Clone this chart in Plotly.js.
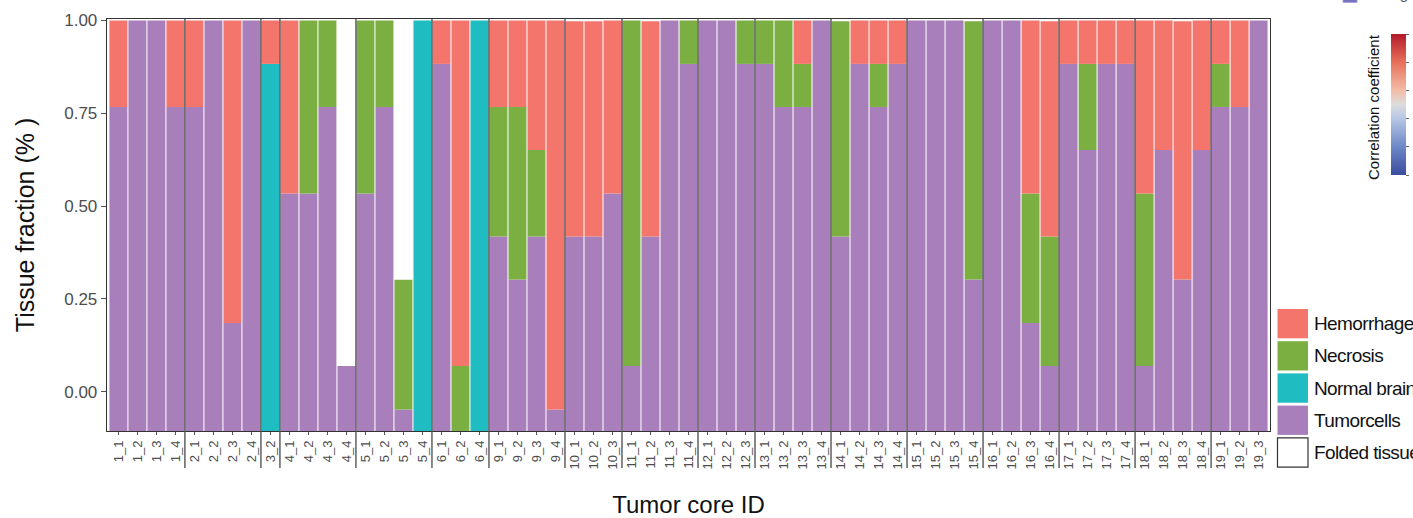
<!DOCTYPE html>
<html>
<head>
<meta charset="utf-8">
<script src="https://cdn.plot.ly/plotly-3.0.1.min.js"></script>
<style>html,body{margin:0;padding:0;background:#fff;}#chart{width:1413px;height:518px;}</style>
</head>
<body>
<div id="chart"></div>
<script>
// ---- data (segment heights in y-axis units; bars start at the panel floor) ----
const categories = [
  '1_1','1_2','1_3','1_4',
  '2_1','2_2','2_3','2_4',
  '3_2',
  '4_1','4_2','4_3','4_4',
  '5_1','5_2','5_3','5_4',
  '6_1','6_2','6_4',
  '9_1','9_2','9_3','9_4',
  '10_1','10_2','10_3',
  '11_1','11_2','11_3','11_4',
  '12_1','12_2','12_3',
  '13_1','13_2','13_3','13_4',
  '14_1','14_2','14_3','14_4',
  '15_1','15_2','15_3','15_4',
  '16_1','16_2','16_3','16_4',
  '17_1','17_2','17_3','17_4',
  '18_1','18_2','18_3','18_4',
  '19_1','19_2','19_3'
];
const axisFloor = -0.106;
const tumorcells = [
  0.873,1.106,1.106,0.873,
  0.873,1.106,0.291,1.106,
  0,
  0.640,0.640,0.873,0.175,
  0.640,0.873,0.058,0,
  0.989,0,0,
  0.524,0.408,0.524,0.058,
  0.524,0.524,0.640,
  0.175,0.524,1.106,0.989,
  1.106,1.106,0.989,
  0.989,0.873,0.873,1.106,
  0.524,0.989,0.873,0.989,
  1.106,1.106,1.106,0.408,
  1.106,1.106,0.291,0.175,
  0.989,0.757,0.989,0.989,
  0.175,0.757,0.408,0.757,
  0.873,0.873,1.106
];
const normalBrain = [
  0,0,0,0,
  0,0,0,0,
  0.989,
  0,0,0,0,
  0,0,0,1.106,
  0,0,1.106,
  0,0,0,0,
  0,0,0,
  0,0,0,0,
  0,0,0,
  0,0,0,0,
  0,0,0,0,
  0,0,0,0,
  0,0,0,0,
  0,0,0,0,
  0,0,0,0,
  0,0,0
];
const necrosis = [
  0,0,0,0,
  0,0,0,0,
  0,
  0,0.466,0.233,0,
  0.466,0.233,0.350,0,
  0,0.175,0,
  0.349,0.465,0.233,0,
  0,0,0,
  0.931,0,0,0.117,
  0,0,0.117,
  0.117,0.233,0.116,0,
  0.580,0,0.116,0,
  0,0,0,0.696,
  0,0,0.349,0.349,
  0,0.232,0,0,
  0.465,0,0,0,
  0.116,0,0
];
const hemorrhage = [
  0.233,0,0,0.233,
  0.233,0,0.815,0,
  0.117,
  0.466,0,0,0,
  0,0,0,0,
  0.117,0.931,0,
  0.233,0.233,0.349,1.048,
  0.580,0.580,0.466,
  0,0.580,0,0,
  0,0,0,
  0,0,0.117,0,
  0,0.117,0.117,0.117,
  0,0,0,0,
  0,0,0.466,0.580,
  0.117,0.117,0.117,0.117,
  0.466,0.349,0.696,0.349,
  0.117,0.233,0
];
const foldedTissue = [
  0,0,0,0,
  0,0,0,0,
  0,
  0,0,0,0.931,
  0,0,0.698,0,
  0,0,0,
  0,0,0,0,
  0,0,0,
  0,0,0,0,
  0,0,0,
  0,0,0,0,
  0,0,0,0,
  0,0,0,0,
  0,0,0,0,
  0,0,0,0,
  0,0,0,0,
  0,0,0
];
const seriesNames = ['Tumorcells','Normal brain','Necrosis','Hemorrhage','Folded tissue'];
const seriesColors = ['#A87FBA','#1FBCC1','#7BAF42','#F3756C','#FFFFFF'];
const legendOrder = ['Hemorrhage','Necrosis','Normal brain','Tumorcells','Folded tissue'];
const yTicks = [0, 0.25, 0.5, 0.75, 1.0];
const colorbarRange = [-1, 1];

// ---- geometry helpers for decorations ----
const W = 1413, H = 518;
const M = {l:107, r:143, t:19, b:87};
const PW = W - M.l - M.r, PH = H - M.t - M.b;
const px2x = p => (p - M.l) / PW;
const py2y = p => (H - M.b - p) / PH;
const FONT = 'Liberation Sans, Arial, sans-serif';

// ---- bar traces (stacked manually from the floor) ----
const seriesData = [tumorcells, normalBrain, necrosis, hemorrhage, foldedTissue];
const running = categories.map(() => axisFloor);
const traces = seriesData.map((vals, s) => {
  const base = [], y = [];
  vals.forEach((v, i) => {
    base.push(running[i]);
    y.push(v > 0 ? v : null);
    running[i] += v;
  });
  return {
    type: 'bar', name: seriesNames[s], x: categories, y: y, base: base,
    marker: {color: seriesColors[s], line: {width: 0}},
    showlegend: false, hoverinfo: 'x+name'
  };
});

// colour bar of the neighbouring panel (only its scale is shown)
traces.push({
  type: 'heatmap', z: [colorbarRange], xaxis: 'x2', yaxis: 'y2', opacity: 0,
  zmin: colorbarRange[0], zmax: colorbarRange[1], hoverinfo: 'skip',
  colorscale: [[0,'#3B4B9E'],[0.2,'#6C88C8'],[0.4,'#B6C6E4'],[0.5,'#DDDDDD'],[0.6,'#F3BCA6'],[0.8,'#E8705A'],[1,'#B3192B']],
  colorbar: {
    x: px2x(1391), xanchor: 'left', y: py2y(104.5), yanchor: 'middle',
    len: 141, lenmode: 'pixels', thickness: 15, thicknessmode: 'pixels',
    xpad: 0, ypad: 0, outlinewidth: 0, ticks: 'outside', ticklen: 3, tickcolor: '#666',
    tickmode: 'array', tickvals: [-1,-0.6,-0.2,0.2,0.6,1], showticklabels: false
  }
});

// ---- group separators ----
const groupOf = c => c.split('_')[0];
const shapes = [];
for (let i = 1; i < categories.length; i++) {
  if (groupOf(categories[i]) !== groupOf(categories[i-1])) {
    shapes.push({type:'line', xref:'x', yref:'paper', x0:i-0.5, x1:i-0.5, y0:py2y(468), y1:1,
      line:{color:'#555555', width:1.4}, layer:'above'});
  }
}

// ---- custom legend ----
const annotations = [];
legendOrder.forEach((nm, k) => {
  const top = 309 + k*32.2, bot = top + 29.3;
  const col = seriesColors[seriesNames.indexOf(nm)];
  shapes.push({type:'rect', xref:'paper', yref:'paper', x0:px2x(1277.5), x1:px2x(1308), y0:py2y(bot), y1:py2y(top),
    fillcolor: col, line: {color: nm === 'Folded tissue' ? '#333333' : col, width: nm === 'Folded tissue' ? 1.2 : 0}});
  annotations.push({xref:'paper', yref:'paper', x:px2x(1312), y:py2y((top+bot)/2), xanchor:'left', yanchor:'middle',
    text: '<span style="letter-spacing:-0.6px">' + nm + '</span>', showarrow:false,
    font:{family:FONT, size:19, color:'#111111'}});
});

// colour bar title and clipped neighbouring legend
annotations.push({xref:'paper', yref:'paper', x:px2x(1373), y:py2y(107), xanchor:'center', yanchor:'middle',
  text:'Correlation coefficient', textangle:-90, showarrow:false, font:{family:FONT, size:15, color:'#111111'}});
shapes.push({type:'rect', xref:'paper', yref:'paper', x0:px2x(1343), x1:px2x(1357), y0:py2y(2.5), y1:py2y(-12),
  fillcolor:'#7474C2', line:{color:'#A5A5DA', width:1}});
annotations.push({xref:'paper', yref:'paper', x:px2x(1361), y:py2y(4), xanchor:'left', yanchor:'bottom',
  text:'Microglia', showarrow:false, font:{family:FONT, size:15, color:'#555555'}});

const layout = {
  width: W, height: H,
  margin: Object.assign({autoexpand: false}, M),
  paper_bgcolor: '#ffffff', plot_bgcolor: '#ffffff',
  font: {family: FONT},
  barmode: 'overlay', bargap: 0.055,
  showlegend: false,
  xaxis: {
    type: 'category', range: [-0.6, categories.length - 0.4],
    showgrid: false, zeroline: false,
    showline: true, mirror: true, linecolor: '#333333', linewidth: 1.3,
    ticks: 'outside', ticklen: 3, tickcolor: '#555555', tickwidth: 1,
    tickangle: -90, tickfont: {family: FONT, size: 13, color: '#4D4D4D'},
    title: {text: 'Tumor core ID', font: {family: FONT, size: 24, color: '#111111'}, standoff: 30},
    automargin: false
  },
  yaxis: {
    range: [axisFloor, 1.004],
    tickmode: 'array', tickvals: yTicks, ticktext: yTicks.map(v => v.toFixed(2)),
    showgrid: false, zeroline: false,
    showline: true, mirror: true, linecolor: '#333333', linewidth: 1.3,
    ticks: 'outside', ticklen: 5, tickcolor: '#555555', tickwidth: 1,
    tickfont: {family: FONT, size: 17, color: '#4D4D4D'},
    title: {text: 'Tissue fraction (% )', font: {family: FONT, size: 25, color: '#111111'}, standoff: 22},
    automargin: false
  },
  xaxis2: {domain: [0, 0.001], visible: false, anchor: 'y2'},
  yaxis2: {domain: [0, 0.001], visible: false, anchor: 'x2'},
  shapes: shapes,
  annotations: annotations
};

Plotly.newPlot('chart', traces, layout, {displayModeBar: false, staticPlot: true});
</script>
</body>
</html>
